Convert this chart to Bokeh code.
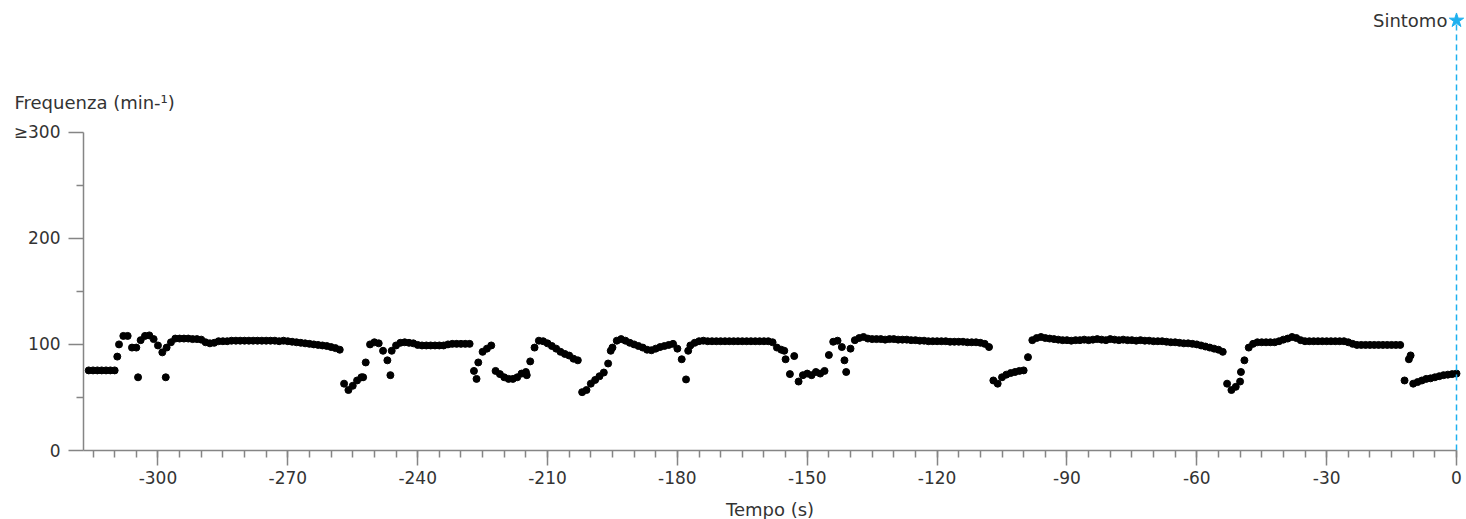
from bokeh.plotting import figure
from bokeh.models import Range1d, FixedTicker, Label
from bokeh.embed import file_html
from bokeh.resources import INLINE

# ---------------- data ----------------
# heart rate (min^-1) sampled once per second, t = -316 ... 0 s
t_start = -316
hr_bpm = [
    75.5, 75.5, 75.5, 75.5, 75.5, 75.5,                          # -316..-311
    75.5, 100, 108, 108, 97, 97, 104, 108, 108.5, 105,           # -310..-301
    99, 92.5, 97, 102, 105.5, 105.5, 105.5, 105.5, 105, 105,     # -300..-291
    104.5, 102, 101, 101.5, 103, 103, 103, 103.5, 103.5, 103.5,  # -290..-281
    103.5, 103.5, 103.5, 103.5, 103.5, 103.5, 103.5, 103.5, 103, 103.5,  # -280..-271
    103, 102.5, 102, 101.5, 101, 100.5, 100, 99.5, 99, 98.5,     # -270..-261
    97.5, 96.5, 95, 63, 57, 61, 66, 69, 83, 100,                 # -260..-251
    102, 101, 94, 85, 94, 99, 101.5, 102, 101.5, 101,            # -250..-241
    99.5, 99, 99, 99, 99, 99, 99, 100, 100.5, 100.5,             # -240..-231
    100.5, 100.5, 100.5, 75, 83, 93, 96, 99, 75, 72,             # -230..-221
    69, 67.5, 67.5, 69, 72.5, 74, 84, 97, 103.5, 103,            # -220..-211
    101, 98.5, 96, 93, 91, 89.5, 86.5, 85, 55, 57,               # -210..-201
    63, 66.5, 70, 73.5, 82, 97, 103.5, 105, 103.5, 101.5,        # -200..-191
    100, 98.5, 97, 95, 94.5, 96, 97.5, 98.5, 99.5, 100.5,        # -190..-181
    96, 86, 67, 99, 101.5, 103, 103.5, 103, 103, 103,            # -180..-171
    103, 103, 103, 103, 103, 103, 103, 103, 103, 103,            # -170..-161
    103, 103, 102, 97, 95, 86, 72, 89, 65, 71,                   # -160..-151
    72.5, 71, 74, 72.5, 75, 90, 102.5, 103.5, 97.5, 74,          # -150..-141
    96, 104, 106, 107, 105.5, 105, 105, 105, 104.5, 105,         # -140..-131
    105, 104.5, 104.5, 104.5, 104, 104, 103.5, 103.5, 103, 103,  # -130..-121
    103, 103, 103, 102.5, 102.5, 102.5, 102.5, 102, 102, 102,    # -120..-111
    101.5, 100.5, 97.5, 66, 63, 69, 71.5, 73, 74, 75,            # -110..-101
    75.5, 88, 104, 106, 107, 106, 105.5, 105, 104.5, 104,        # -100..-91
    104, 103.5, 104, 104, 104.5, 104, 104.5, 105, 104.5, 104,    # -90..-81
    105, 104.5, 104, 104.5, 104, 104, 103.5, 104, 103.5, 103.5,  # -80..-71
    103, 103, 103, 102.5, 102, 102, 101.5, 101, 101, 100.5,      # -70..-61
    100, 99, 98, 97, 96, 95, 93, 63, 57, 60,                     # -60..-51
    65, 85, 97, 100.5, 102, 102, 102, 102, 102, 103,             # -50..-41
    104.5, 105.5, 107, 106, 104, 103, 103, 103, 103, 103,        # -40..-31
    103, 103, 103, 103, 103, 102, 100.5, 99.5, 99.5, 99.5,       # -30..-21
    99.5, 99.5, 99.5, 99.5, 99.5, 99.5, 99.5, 99.5, 66, 86,      # -20..-11
    63, 64.5, 66, 67.5, 68, 69, 70, 71, 71.5, 72,                # -10..-1
    72.5,                                                        # 0
]
sample_t = list(range(t_start, t_start + len(hr_bpm)))

# extra (off-grid) beats: ectopic / transitional points
extra_t = [-309.4, -304.6, -298.2, -252.6, -246.3, -226.4, -214.8, -195.4,
           -177.5, -155.3, -141.4, -49.8, -10.6]
extra_hr = [88.5, 69, 69, 69, 71, 67.5, 71, 94, 94, 94, 85, 74, 89.6]

x_ticks = [-300, -270, -240, -210, -180, -150, -120, -90, -60, -30, 0]
x_tick_labels = ["-300", "-270", "-240", "-210", "-180", "-150", "-120", "-90", "-60", "-30", "0"]
y_ticks = [0, 100, 200, 300]
y_tick_labels = ["0", "100", "200", "\u2265300"]

symptom_t = 0
symptom_label = "Sintomo"
x_title = "Tempo (s)"
y_title = "Frequenza (min-\u00b9)"

# ---------------- figure ----------------
FONT = "DejaVu Sans"
AXIS_COL = "#858585"
TXT_COL = "#333333"
SYM_COL = "#1eb0ef"

X_AXIS_START = -317.2   # left end of the time axis
Y_MAX = 300             # top of the rate axis

# the frame covers the whole canvas; both axes are pinned with fixed_location
p = figure(frame_width=1466, frame_height=519,
           min_border_left=0, min_border_right=0, min_border_top=0, min_border_bottom=0,
           x_range=Range1d(-336.38, 2.31), y_range=Range1d(-65.03, 424.13),
           output_backend="svg", toolbar_location=None)
p.xgrid.visible = False
p.ygrid.visible = False
p.outline_line_color = None
p.background_fill_color = "white"
p.border_fill_color = "white"

xa = p.xaxis[0]
xa.ticker = FixedTicker(ticks=x_ticks, minor_ticks=list(range(-315, 1, 5)))
xa.major_label_overrides = {t: s for t, s in zip(x_ticks, x_tick_labels)}
xa.bounds = (X_AXIS_START, 0)
xa.fixed_location = 0
xa.major_label_standoff = 5

ya = p.yaxis[0]
ya.ticker = FixedTicker(ticks=y_ticks, minor_ticks=[50, 150, 250])
ya.major_label_overrides = {t: s for t, s in zip(y_ticks, y_tick_labels)}
ya.bounds = (0, Y_MAX)
ya.fixed_location = X_AXIS_START
ya.major_label_standoff = 8

for ax in (xa, ya):
    ax.axis_line_color = AXIS_COL
    ax.axis_line_width = 1.5
    ax.major_tick_line_color = AXIS_COL
    ax.major_tick_line_width = 1.5
    ax.minor_tick_line_color = AXIS_COL
    ax.minor_tick_line_width = 1.5
    ax.major_tick_out = 15
    ax.major_tick_in = 0
    ax.minor_tick_out = 7
    ax.minor_tick_in = 0
    ax.major_label_text_font = FONT
    ax.major_label_text_font_size = "17px"
    ax.major_label_text_color = TXT_COL

# data points
p.scatter(sample_t, hr_bpm, size=7, color="black", marker="circle")
p.scatter(extra_t, extra_hr, size=7, color="black", marker="circle")

# symptom marker
star_y = 405.3
p.segment(x0=[symptom_t], y0=[0], x1=[symptom_t], y1=[star_y],
          line_color=SYM_COL, line_width=1.5, line_dash="6 4")
p.scatter([symptom_t], [star_y], marker="star", size=15, color=SYM_COL)
p.add_layout(Label(x=symptom_t - 2.1, y=star_y, text=symptom_label,
                   text_align="right", text_baseline="middle",
                   text_font=FONT, text_font_size="18px", text_color=TXT_COL))

# axis titles
p.add_layout(Label(x=14, y=102, x_units="canvas", y_units="canvas", text=y_title,
                   text_align="left", text_baseline="alphabetic",
                   text_font=FONT, text_font_size="18px", text_color=TXT_COL))
p.add_layout(Label(x=(X_AXIS_START + 0) / 2, y=509, y_units="canvas", text=x_title,
                   text_align="center", text_baseline="alphabetic",
                   text_font=FONT, text_font_size="18px", text_color=TXT_COL))

open("out.html", "w").write(file_html(p, INLINE))
